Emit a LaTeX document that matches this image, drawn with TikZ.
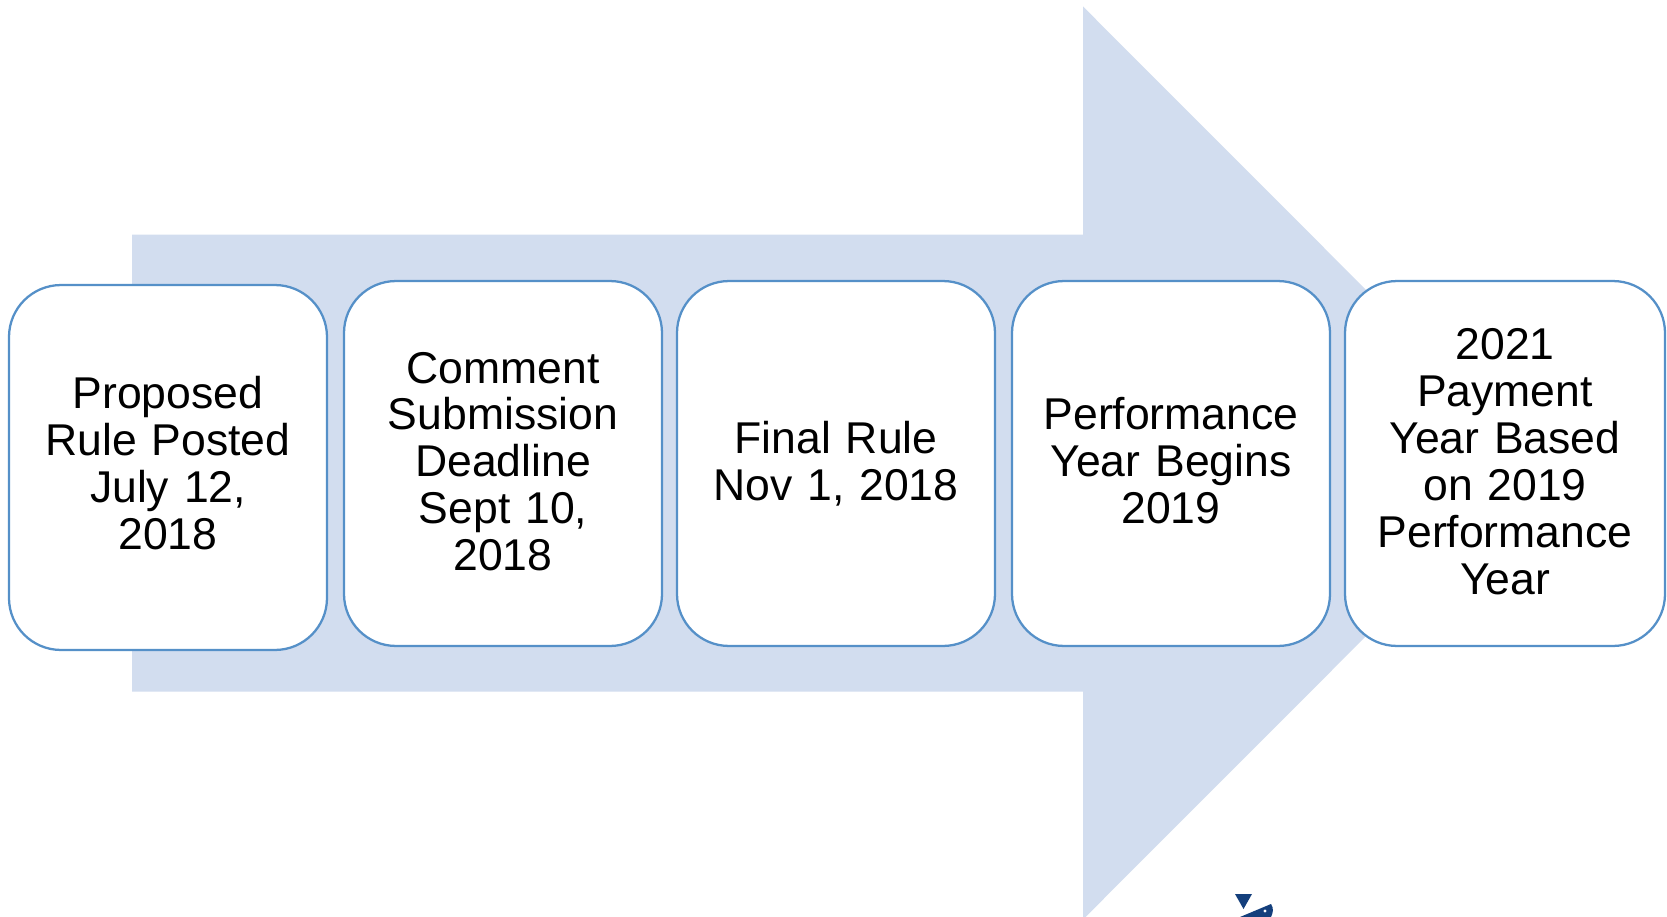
\documentclass[tikz,border=0pt]{standalone}
\usepackage{fontspec}
\setmainfont{Liberation Sans}
\definecolor{arrowfill}{HTML}{D2DDEF}
\definecolor{boxline}{HTML}{5590C8}
\definecolor{logoblue}{HTML}{143F7C}
\tikzset{
  stepbox/.style={draw=boxline,fill=white,line width=1.7pt,rounded corners=39pt,
    minimum width=238.5pt,minimum height=273.7pt,inner sep=0pt,outer sep=0pt,
    text width=225pt,align=center,font=\fontsize{33.4pt}{35.2pt}\selectfont},
}
\newcommand{\liftpad}[1]{\\[\dimexpr#1-35.2pt\relax]\mbox{}}
\begin{document}
\begin{tikzpicture}[x=0.75pt,y=-0.75pt]
\useasboundingbox (0,0) rectangle (1667,917);
\fill[white] (0,0) rectangle (1667,917);
\begin{scope}
\clip (0,0) rectangle (1667,917);
\fill[arrowfill] (132,234.5) -- (1083,234.5) -- (1083,6.5) -- (1539,463) -- (1083,919.5) -- (1083,691.5) -- (132,691.5) -- cycle;
\fill[logoblue] (1235,894) -- (1252,894) -- (1243.5,909) -- cycle;
\fill[logoblue] (1240,917) -- (1271,904) .. controls (1274,908) and (1273,913) .. (1271,917) -- cycle;
\fill[white] (1265,911) circle (1.7);
\end{scope}
\node[stepbox] (b1) at (168,467.5) {Proposed\\Rule Posted\\July 12,\\2018\liftpad{6.4pt}};
\node[stepbox] (b2) at (503,463.5) {Comment\\Submission\\Deadline\\Sept 10,\\2018\liftpad{3.2pt}};
\node[stepbox] (b3) at (836,463.5) {Final Rule\\Nov 1, 2018};
\node[stepbox] (b4) at (1171,463.5) {Performance\\Year Begins\\2019\liftpad{4.8pt}};
\node[stepbox,minimum width=240pt] (b5) at (1505,463.5) {2021\\Payment\\Year Based\\on 2019\\Performance\\Year\liftpad{3.2pt}};
\end{tikzpicture}
\end{document}
